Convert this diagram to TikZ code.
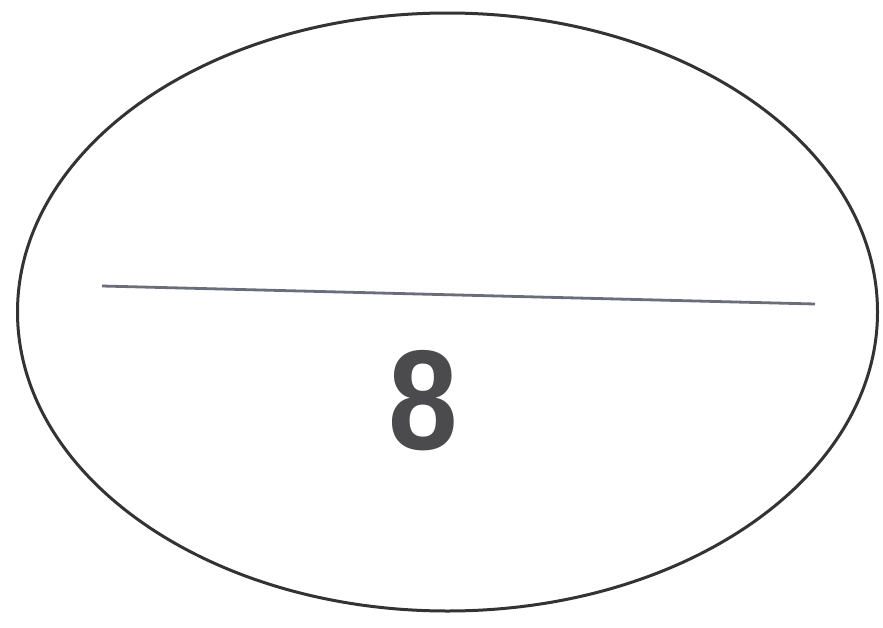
\documentclass[tikz,border=0pt]{standalone}
\usepackage{fontspec}
\setmainfont{Liberation Sans}
\definecolor{divgray}{RGB}{105,110,122}
\definecolor{digitgray}{RGB}{75,75,78}
\begin{document}
\begin{tikzpicture}[x=1pt,y=-1pt,
  outline/.style={draw=black!80, line width=3pt},
  divider/.style={draw=divgray, line width=2.8pt},
  digit/.style={text=digitgray, font=\fontsize{142}{142}\selectfont\bfseries, inner sep=0pt, xscale=0.88}]
\useasboundingbox (0,0) rectangle (883,627);
\fill[white] (0,0) rectangle (883,627);
\draw[outline] (447.5,312) ellipse [x radius=430, y radius=299];
\coordinate (l) at (102,286);
\coordinate (r) at (815,304);
\draw[divider] (l) -- (r);
\node[digit] (n) at (423,401) {8};
\end{tikzpicture}
\end{document}
